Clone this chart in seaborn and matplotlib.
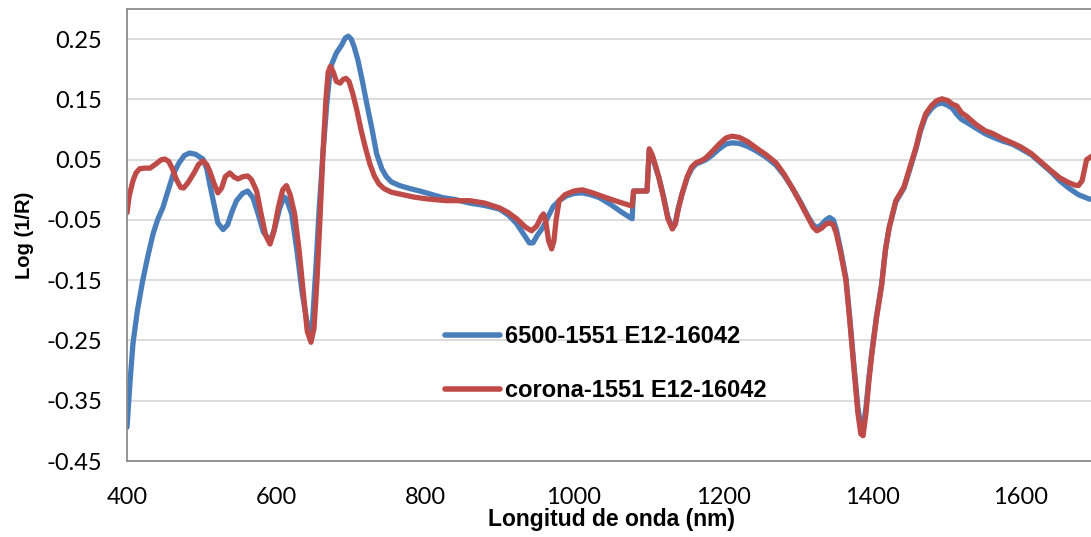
import numpy as np
import pandas as pd
import matplotlib
matplotlib.use("Agg")
import matplotlib.pyplot as plt
import seaborn as sns

# ---- data ----
wl_6500 = [400, 404, 408, 414, 421, 428, 435, 441, 448, 455, 462, 470, 477, 484, 492, 502, 507,
           511, 517, 522, 529, 535, 541, 547, 555, 562, 569, 576, 583, 592, 598, 605, 611, 614,
           621, 628, 635, 641, 645, 649, 654, 658, 663, 668, 672, 675, 681, 688, 693, 697, 701,
           705, 710, 716, 722, 729, 735, 742, 748, 755, 766, 780, 793, 810, 824, 840, 860, 880,
           900, 912, 923, 933, 940, 945, 951, 958, 965, 972, 980, 990, 1000, 1011, 1022, 1034,
           1050, 1065, 1078, 1080, 1098, 1101, 1105, 1110, 1114, 1120, 1126, 1132, 1136, 1140,
           1145, 1152, 1158, 1164, 1172, 1177, 1185, 1195, 1204, 1212, 1222, 1233, 1244, 1258,
           1271, 1282, 1293, 1304, 1315, 1321, 1326, 1332, 1338, 1343, 1348, 1352, 1358, 1365,
           1370, 1376, 1381, 1385, 1388, 1392, 1396, 1400, 1406, 1413, 1418, 1423, 1432, 1443,
           1451, 1459, 1465, 1472, 1480, 1487, 1494, 1502, 1508, 1514, 1520, 1527, 1540, 1552,
           1561, 1575, 1588, 1600, 1614, 1627, 1641, 1652, 1664, 1677, 1691, 1700]
val_6500 = [-0.394, -0.320, -0.255, -0.200, -0.151, -0.110, -0.073, -0.050, -0.030, -0.002,
            0.026, 0.045, 0.057, 0.061, 0.059, 0.051, 0.035, 0.010, -0.025, -0.055, -0.066,
            -0.058, -0.036, -0.018, -0.006, -0.002, -0.013, -0.040, -0.070, -0.085, -0.065,
            -0.030, -0.012, -0.015, -0.040, -0.100, -0.170, -0.215, -0.235, -0.220, -0.120,
            -0.030, 0.060, 0.140, 0.190, 0.209, 0.227, 0.240, 0.252, 0.255, 0.250, 0.237, 0.215,
            0.180, 0.142, 0.100, 0.060, 0.035, 0.022, 0.013, 0.007, 0.002, -0.002, -0.008,
            -0.013, -0.016, -0.022, -0.026, -0.032, -0.042, -0.056, -0.075, -0.088, -0.088,
            -0.075, -0.063, -0.045, -0.028, -0.018, -0.010, -0.006, -0.005, -0.008, -0.013,
            -0.025, -0.038, -0.048, -0.002, -0.002, 0.066, 0.055, 0.035, 0.020, -0.010, -0.045,
            -0.063, -0.055, -0.030, -0.007, 0.020, 0.035, 0.043, 0.047, 0.050, 0.057, 0.068,
            0.076, 0.078, 0.077, 0.072, 0.065, 0.054, 0.041, 0.024, 0.003, -0.020, -0.046,
            -0.058, -0.063, -0.058, -0.050, -0.046, -0.050, -0.065, -0.100, -0.146, -0.210,
            -0.295, -0.360, -0.395, -0.395, -0.360, -0.310, -0.267, -0.210, -0.156, -0.100,
            -0.063, -0.020, 0.003, 0.035, 0.068, 0.097, 0.122, 0.135, 0.142, 0.144, 0.140,
            0.135, 0.125, 0.117, 0.112, 0.102, 0.093, 0.088, 0.081, 0.076, 0.068, 0.058, 0.044,
            0.029, 0.015, 0.003, -0.008, -0.015, -0.017]

wl_corona = [400, 403, 408, 412, 417, 424, 431, 440, 446, 451, 456, 461, 466, 472, 476, 482,
             490, 496, 502, 507, 511, 517, 522, 527, 532, 538, 544, 549, 556, 562, 567, 574,
             580, 586, 592, 597, 603, 609, 614, 619, 625, 631, 637, 642, 647, 651, 655, 659,
             663, 667, 670, 673, 677, 681, 686, 690, 694, 698, 703, 708, 714, 720, 726, 732,
             738, 745, 755, 766, 785, 802, 829, 860, 880, 900, 912, 923, 935, 943, 950, 956,
             959, 962, 966, 970, 973, 976, 980, 988, 1000, 1011, 1025, 1043, 1060, 1078, 1080,
             1098, 1101, 1105, 1110, 1114, 1120, 1126, 1132, 1136, 1140, 1145, 1152, 1158, 1164,
             1172, 1177, 1185, 1195, 1204, 1212, 1222, 1233, 1244, 1258, 1271, 1282, 1293, 1304,
             1315, 1321, 1326, 1332, 1338, 1343, 1348, 1352, 1358, 1365, 1370, 1376, 1381, 1385,
             1388, 1392, 1396, 1400, 1406, 1413, 1418, 1423, 1432, 1443, 1451, 1459, 1465, 1472,
             1480, 1487, 1494, 1502, 1508, 1514, 1520, 1527, 1540, 1552, 1561, 1575, 1588, 1600,
             1614, 1627, 1641, 1652, 1664, 1672, 1677, 1682, 1688, 1700]
val_corona = [-0.038, -0.010, 0.015, 0.028, 0.035, 0.036, 0.036, 0.044, 0.050, 0.051, 0.047,
              0.035, 0.018, 0.004, 0.003, 0.012, 0.028, 0.042, 0.048, 0.042, 0.031, 0.010,
              -0.005, 0.003, 0.022, 0.028, 0.021, 0.018, 0.022, 0.023, 0.017, -0.002, -0.040,
              -0.075, -0.090, -0.070, -0.030, 0.000, 0.007, -0.008, -0.040, -0.100, -0.175,
              -0.235, -0.253, -0.230, -0.150, -0.050, 0.060, 0.150, 0.195, 0.205, 0.195, 0.180,
              0.177, 0.183, 0.185, 0.180, 0.160, 0.135, 0.100, 0.070, 0.043, 0.023, 0.010,
              0.002, -0.004, -0.007, -0.012, -0.015, -0.018, -0.018, -0.022, -0.030, -0.038,
              -0.048, -0.062, -0.068, -0.060, -0.045, -0.040, -0.052, -0.085, -0.098, -0.085,
              -0.050, -0.018, -0.008, -0.002, 0.000, -0.005, -0.013, -0.020, -0.027, -0.002,
              -0.002, 0.068, 0.058, 0.038, 0.020, -0.012, -0.048, -0.065, -0.057, -0.032,
              -0.007, 0.022, 0.038, 0.045, 0.049, 0.053, 0.063, 0.076, 0.086, 0.089, 0.087,
              0.080, 0.070, 0.058, 0.045, 0.026, 0.003, -0.022, -0.048, -0.062, -0.068, -0.064,
              -0.057, -0.055, -0.058, -0.072, -0.105, -0.150, -0.215, -0.300, -0.370, -0.405,
              -0.408, -0.370, -0.315, -0.270, -0.213, -0.158, -0.100, -0.063, -0.018, 0.005,
              0.038, 0.070, 0.100, 0.126, 0.140, 0.148, 0.151, 0.148, 0.142, 0.139, 0.128,
              0.122, 0.108, 0.098, 0.094, 0.085, 0.078, 0.071, 0.060, 0.046, 0.031, 0.020,
              0.012, 0.008, 0.007, 0.015, 0.050, 0.060]

series_names = ["6500-1551 E12-16042", "corona-1551 E12-16042"]
y_ticks = [-0.45, -0.35, -0.25, -0.15, -0.05, 0.05, 0.15, 0.25]
x_ticks = [400, 600, 800, 1000, 1200, 1400, 1600]

df = pd.concat([
    pd.DataFrame({"wl": wl_6500, "val": val_6500, "serie": series_names[0]}),
    pd.DataFrame({"wl": wl_corona, "val": val_corona, "serie": series_names[1]}),
])

sns.set_theme(style="white")
plt.rcParams["axes.unicode_minus"] = False
plt.rcParams["text.color"] = "black"
plt.rcParams["axes.labelcolor"] = "black"

fig = plt.figure(figsize=(10.91, 5.37), dpi=100)
ax = fig.add_axes([127 / 1091, 0.1415, (1095.5 - 127) / 1091, 0.8417])

palette = {series_names[0]: "#4A7EBB", series_names[1]: "#BE4B48"}
sns.lineplot(data=df, x="wl", y="val", hue="serie", palette=palette, sort=False,
             linewidth=3.8, ax=ax, estimator=None)
for ln in ax.get_lines():
    ln.set_solid_capstyle("round")
    ln.set_solid_joinstyle("round")

ax.set_xlim(400, 1700)
ax.set_ylim(-0.45, 0.30)
ax.set_yticks(y_ticks)
ax.set_yticklabels([f"{v:.2f}" for v in y_ticks])
ax.set_xticks(x_ticks)
ax.set_xticklabels([str(v) for v in x_ticks])
ax.yaxis.grid(True, color="#D9D9D9", linewidth=1.3)
ax.xaxis.grid(False)
ax.set_axisbelow(True)
for side in ["left", "bottom", "top"]:
    ax.spines[side].set_color("#8C8C8C")
    ax.spines[side].set_linewidth(1.3)
ax.spines["right"].set_visible(False)
ax.tick_params(axis="both", length=0, labelsize=17, colors="black")
ax.tick_params(axis="x", pad=19)
ax.tick_params(axis="y", pad=18)
for lab in ax.get_xticklabels() + ax.get_yticklabels():
    lab.set_family(["Lato", "DejaVu Sans"])

ax.set_xlabel("Longitud de onda (nm)", fontsize=16.5, fontweight="bold",
              family=["Liberation Sans", "DejaVu Sans"], labelpad=0)
ax.set_ylabel("Log (1/R)", fontsize=14.5, fontweight="bold",
              family=["Liberation Sans", "DejaVu Sans"], labelpad=9)

leg = ax.legend(loc="upper left", bbox_to_anchor=(433 / 1091, 1 - 313 / 537),
                bbox_transform=fig.transFigure, frameon=False, borderpad=0,
                handlelength=2.35, handletextpad=0.2, labelspacing=1.32,
                prop={"family": ["Liberation Sans", "DejaVu Sans"], "weight": "bold", "size": 17})
for h in leg.get_lines():
    h.set_linewidth(4)
    h.set_solid_capstyle("round")

fig.savefig("out.png", dpi=100)
